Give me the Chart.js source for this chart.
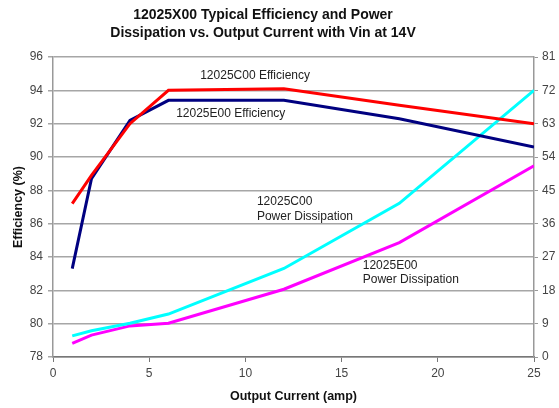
<!DOCTYPE html>
<html>
<head>
<meta charset="utf-8">
<script src="https://cdn.jsdelivr.net/npm/chart.js@4/dist/chart.umd.min.js"></script>
<style>
  html,body{margin:0;padding:0;background:#fff;}
  #wrap{position:relative;width:559px;height:408px;}
</style>
</head>
<body>
<div id="wrap"><canvas id="effChart"></canvas></div>
<script>
const current = [1, 2, 4, 6, 12, 18, 25];
const effC00  = [87.2, 88.9, 92.0, 94.0, 94.1, 93.1, 92.0];
const effE00  = [83.3, 88.7, 92.2, 93.4, 93.4, 92.3, 90.6];
const pdC00   = [5.7, 7.1, 9.1, 11.6, 23.9, 41.5, 72.0];
const pdE00   = [3.7, 5.9, 8.4, 9.1, 18.3, 30.9, 51.6];

const titleLines = ['12025X00 Typical Efficiency and Power', 'Dissipation vs. Output Current with Vin at 14V'];

// curve labels, placed in data units (x, left-axis value)
const notes = [
  {lines:['12025C00 Efficiency'], x:7.65, y:94.85},
  {lines:['12025E00 Efficiency'], x:6.4, y:92.6},
  {lines:['12025C00','Power Dissipation'], x:10.6, y:87.3},
  {lines:['12025E00','Power Dissipation'], x:16.1, y:83.5}
];

const pts = (xs, ys) => xs.map((x, i) => ({x, y: ys[i]}));
const FONT = 'Arial, "Liberation Sans", sans-serif';
const GRID = '#a6a6a6';

const textPlugin = {
  id:'textPlugin',
  afterDraw(chart){
    const ctx = chart.ctx, sx = chart.scales.x, sy = chart.scales.y;
    ctx.save();
    ctx.fillStyle = '#111';
    ctx.font = 'bold 14px ' + FONT;
    ctx.textAlign = 'center';
    ctx.textBaseline = 'middle';
    titleLines.forEach((t, i) => ctx.fillText(t, 263, 15 + i * 18));
    ctx.font = '12px ' + FONT;
    ctx.fillStyle = '#222';
    ctx.textAlign = 'left';
    notes.forEach(n => {
      const px = sx.getPixelForValue(n.x), py = sy.getPixelForValue(n.y);
      n.lines.forEach((l, i) => ctx.fillText(l, px, py + i * 14.5));
    });
    ctx.restore();
  }
};

new Chart(document.getElementById('effChart'), {
  type:'line',
  data:{datasets:[
    {label:'12025C00 Efficiency', data:pts(current, effC00), borderColor:'#ff0000', yAxisID:'y'},
    {label:'12025E00 Efficiency', data:pts(current, effE00), borderColor:'#000080', yAxisID:'y'},
    {label:'12025C00 Power Dissipation', data:pts(current, pdC00), borderColor:'#00ffff', yAxisID:'y2'},
    {label:'12025E00 Power Dissipation', data:pts(current, pdE00), borderColor:'#ff00ff', yAxisID:'y2'}
  ]},
  options:{
    responsive:true, maintainAspectRatio:false, animation:false,
    layout:{padding:{top:57, left:0, right:0, bottom:0}},
    elements:{line:{borderWidth:3, tension:0}, point:{radius:0}},
    plugins:{legend:{display:false}, tooltip:{enabled:false}},
    scales:{
      x:{type:'linear', min:0, max:25,
        ticks:{stepSize:5, color:'#444', font:{size:12, family:FONT}, padding:4},
        grid:{drawOnChartArea:false, tickLength:5, color:'#777'},
        border:{color:'#777', width:1.5},
        title:{display:true, text:'Output Current (amp)', color:'#111', font:{size:12.5, weight:'bold', family:FONT}, padding:{top:8}},
        afterFit:s => { s.height = 51; }
      },
      y:{position:'left', min:78, max:96,
        ticks:{stepSize:2, color:'#444', font:{size:12, family:FONT}, padding:5},
        grid:{color:GRID, lineWidth:1.5, tickLength:5},
        border:{color:'#999', width:1.5},
        title:{display:true, text:'Efficiency (%)', color:'#111', font:{size:12.5, weight:'bold', family:FONT}, padding:{top:11, bottom:0}},
        afterFit:s => { s.width = 53; }
      },
      y2:{position:'right', min:0, max:81,
        ticks:{stepSize:9, color:'#444', font:{size:12, family:FONT}, padding:4},
        grid:{drawOnChartArea:false, tickLength:4, color:'#999'},
        border:{color:'#999', width:1.5},
        afterFit:s => { s.width = 25; }
      }
    }
  },
  plugins:[textPlugin]
});
</script>
</body>
</html>
